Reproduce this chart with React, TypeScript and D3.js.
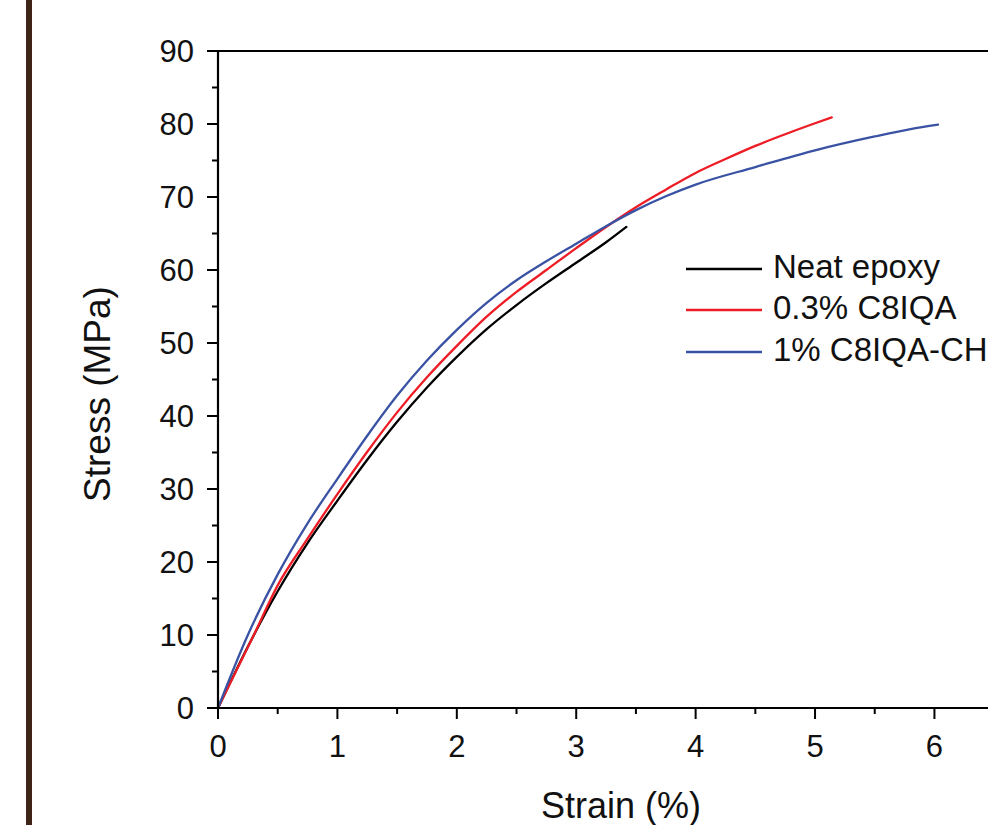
import React from "react";
import * as d3 from "d3";

const W = 988;
const H = 825;

const neatStrain = [0, 0.25, 0.5, 0.75, 1.0, 1.25, 1.5, 1.75, 2.0, 2.25, 2.5, 2.75, 3.0, 3.25, 3.42];
const neatStress = [0, 8.4, 16.0, 22.6, 28.4, 34.0, 39.2, 43.9, 48.1, 51.9, 55.2, 58.2, 61.0, 63.8, 65.9];

const c03Strain = [0, 0.3, 0.5, 0.75, 1.0, 1.25, 1.5, 1.75, 2.0, 2.25, 2.5, 2.75, 3.0, 3.25, 3.5, 3.75, 4.0, 4.25, 4.5, 4.75, 5.0, 5.14];
const c03Stress = [0, 10, 16.8, 23.2, 29.3, 35.1, 40.5, 45.3, 49.6, 53.6, 57.0, 60.0, 63.0, 65.9, 68.6, 71.0, 73.3, 75.2, 77.0, 78.6, 80.1, 80.9];

const c1Strain = [0, 0.25, 0.5, 0.75, 1.0, 1.25, 1.5, 1.75, 2.0, 2.25, 2.5, 2.75, 3.0, 3.25, 3.5, 3.75, 4.0, 4.5, 5.0, 5.5, 5.8, 6.03];
const c1Stress = [0, 10, 18.3, 25.3, 31.4, 37.3, 42.8, 47.6, 51.8, 55.5, 58.6, 61.2, 63.6, 66.0, 68.2, 70.1, 71.7, 74.1, 76.4, 78.3, 79.3, 79.9];

const seriesNames = ["Neat epoxy", "0.3% C8IQA", "1% C8IQA-CH"];
const seriesColors = ["#000000", "#ee1c25", "#3a52a3"];

const xTicks = [0, 1, 2, 3, 4, 5, 6];
const xMinorTicks = [0.5, 1.5, 2.5, 3.5, 4.5, 5.5, 6.5];
const yTicks = [0, 10, 20, 30, 40, 50, 60, 70, 80, 90];
const yMinorTicks = [5, 15, 25, 35, 45, 55, 65, 75, 85];

const FONT = "'Liberation Sans', Arial, Helvetica, sans-serif";

export default function App() {
  const x = d3.scaleLinear().domain([0, 6.75]).range([218, 1024]);
  const y = d3.scaleLinear().domain([0, 90]).range([708, 51]);

  const series = [
    { xs: neatStrain, ys: neatStress },
    { xs: c03Strain, ys: c03Stress },
    { xs: c1Strain, ys: c1Stress },
  ].map((s, i) => ({
    name: seriesNames[i],
    color: seriesColors[i],
    pts: s.xs.map((v, j) => [v, s.ys[j]] as [number, number]),
  }));

  const line = d3
    .line<[number, number]>()
    .x((d) => x(d[0]))
    .y((d) => y(d[1]))
    .curve(d3.curveMonotoneX);

  const x0 = x(0);
  const y0 = y(0);
  const xEnd = x.range()[1];
  const yTop = y.range()[1];

  const legendX = 686;
  const legendYs = [269, 310, 352];

  return (
    <svg
      width={W}
      height={H}
      style={{ position: "fixed", left: 0, top: 0, background: "#fff" }}
      fontFamily={FONT}
    >
      <rect x={0} y={0} width={W} height={H} fill="#fff" />
      <rect x={26} y={0} width={6} height={H} fill="#3e2518" />

      {series.map((s) => (
        <path
          key={s.name}
          d={line(s.pts) || ""}
          fill="none"
          stroke={s.color}
          strokeWidth={2.3}
          strokeLinejoin="round"
          strokeLinecap="round"
        />
      ))}

      <line x1={x0} y1={y0} x2={xEnd} y2={y0} stroke="#000" strokeWidth={2.2} />
      <line x1={x0} y1={y0 + 1} x2={x0} y2={yTop} stroke="#000" strokeWidth={2.2} />
      <line x1={x0} y1={yTop} x2={xEnd} y2={yTop} stroke="#000" strokeWidth={2.2} />

      {yTicks.map((t) => (
        <g key={"y" + t}>
          <line x1={x0 - 11} x2={x0} y1={y(t)} y2={y(t)} stroke="#000" strokeWidth={2} />
          <text x={194} y={y(t)} dy="0.36em" textAnchor="end" fontSize={31} fill="#111">
            {t}
          </text>
        </g>
      ))}
      {yMinorTicks.map((t) => (
        <line key={"ym" + t} x1={x0 - 6} x2={x0} y1={y(t)} y2={y(t)} stroke="#000" strokeWidth={2} />
      ))}

      {xTicks.map((t) => (
        <g key={"x" + t}>
          <line x1={x(t)} x2={x(t)} y1={y0} y2={y0 + 11} stroke="#000" strokeWidth={2} />
          <text x={x(t)} y={757} textAnchor="middle" fontSize={31} fill="#111">
            {t}
          </text>
        </g>
      ))}
      {xMinorTicks.map((t) => (
        <line key={"xm" + t} x1={x(t)} x2={x(t)} y1={y0} y2={y0 + 6} stroke="#000" strokeWidth={2} />
      ))}

      <text x={(x0 + xEnd) / 2} y={818} textAnchor="middle" fontSize={36} fill="#111">
        Strain (%)
      </text>
      <text
        transform={`translate(110, ${394}) rotate(-90)`}
        textAnchor="middle"
        fontSize={37}
        fill="#111"
      >
        Stress (MPa)
      </text>

      {series.map((s, i) => (
        <g key={"lg" + i}>
          <line
            x1={legendX}
            x2={legendX + 76}
            y1={legendYs[i]}
            y2={legendYs[i]}
            stroke={s.color}
            strokeWidth={2.3}
          />
          <text x={773} y={legendYs[i] - 3} dy="0.36em" fontSize={33} fill="#111">
            {s.name}
          </text>
        </g>
      ))}
    </svg>
  );
}
